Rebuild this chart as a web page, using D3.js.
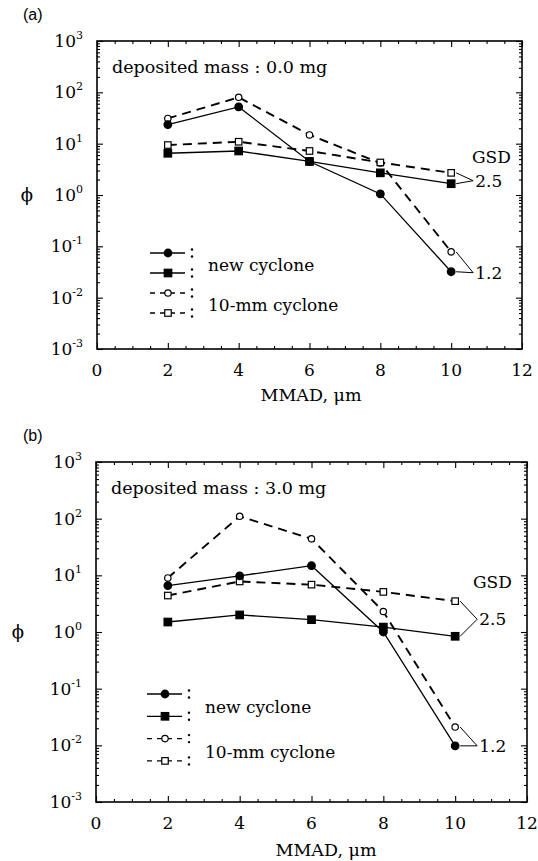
<!DOCTYPE html>
<html lang="en">
<head>
<meta charset="UTF-8">
<title>Phi vs MMAD</title>
<script src="https://d3js.org/d3.v7.min.js"></script>
<style>
  body { margin: 0; background: #fff; }
  svg text { font-family: "DejaVu Serif", serif; fill: #000; }
</style>
</head>
<body>
<div id="chart"></div>
<script>
const mmad = [2, 4, 6, 8, 10];
const xTicks = [0, 2, 4, 6, 8, 10, 12];
const yExponents = [-3, -2, -1, 0, 1, 2, 3];
const panelNames = ["(a)", "(b)"];
const massLabels = ["deposited mass : 0.0 mg", "deposited mass : 3.0 mg"];
const legendNames = ["new cyclone", "10-mm cyclone"];
const gsdNames = ["2.5", "1.2"];

// (a) deposited mass 0.0 mg
const aNew12 = [23.5, 52, 4.5, 1.05, 0.032];
const aNew25 = [6.5, 7.2, 4.5, 2.7, 1.66];
const aOld12 = [31, 80, 14.8, 4.2, 0.078];
const aOld25 = [9.4, 10.9, 7.2, 4.3, 2.7];
// (b) deposited mass 3.0 mg
const bNew12 = [6.6, 9.8, 14.8, 1.0, 0.0098];
const bNew25 = [1.5, 2.0, 1.65, 1.22, 0.84];
const bOld12 = [9.0, 110, 44, 2.3, 0.021];
const bOld25 = [4.4, 7.8, 6.85, 5.1, 3.5];

const panelData = [
  {new12: aNew12, new25: aNew25, old12: aOld12, old25: aOld25},
  {new12: bNew12, new25: bNew25, old12: bOld12, old25: bOld25}
];

const layouts = [
  {left: 97, right: 522, top: 41, bottom: 349, phiX: 27, titleX: 311, titleDy: 52,
   legX: 150, legY: 253, legStep: 20, gsdX: 472, gsdY: 157, d25: -3, d12: 1},
  {left: 96, right: 527, top: 462, bottom: 802, phiX: 18, titleX: 326, titleDy: 54,
   legX: 147, legY: 694, legStep: 22.3, gsdX: 473, gsdY: 582, d25: -17, d12: 0}
];

const svg = d3.select("#chart").append("svg")
  .attr("width", 538).attr("height", 861);

function marker(g, shape, filled, cx, cy) {
  if (shape === "circle") {
    g.append("circle").attr("cx", cx).attr("cy", cy)
      .attr("r", filled ? 3.8 : 3.2)
      .attr("fill", filled ? "#000" : "#fff")
      .attr("stroke", "#000").attr("stroke-width", 1.2);
  } else {
    const s = filled ? 7.5 : 6.5;
    g.append("rect").attr("x", cx - s / 2).attr("y", cy - s / 2)
      .attr("width", s).attr("height", s)
      .attr("fill", filled ? "#000" : "#fff")
      .attr("stroke", "#000").attr("stroke-width", 1.2);
  }
}

function drawPanel(i) {
  const L = layouts[i], D = panelData[i];
  const g = svg.append("g");

  const x = d3.scaleLinear().domain([0, 12]).range([L.left, L.right]);
  const y = d3.scaleLog().domain([1e-3, 1e3]).range([L.bottom, L.top]);

  const xMinor = d3.range(0.5, 12, 0.5).filter(v => v % 2 !== 0);
  const yMinor = [];
  yExponents.slice(0, -1).forEach(e => {
    for (let k = 2; k <= 9; k++) yMinor.push(k * Math.pow(10, e));
  });
  const yMajor = yExponents.map(e => Math.pow(10, e));

  // ticks, all pointing inwards
  const axes = [
    [d3.axisBottom(x), `translate(0,${L.bottom})`, xTicks, xMinor],
    [d3.axisTop(x), `translate(0,${L.top})`, xTicks, xMinor],
    [d3.axisLeft(y), `translate(${L.left},0)`, yMajor, yMinor],
    [d3.axisRight(y), `translate(${L.right},0)`, yMajor, yMinor]
  ];
  axes.forEach(([ax, tr, major, minor]) => {
    const a1 = g.append("g").attr("transform", tr)
      .call(ax.tickValues(major).tickSize(-6).tickFormat(""));
    a1.select(".domain").remove();
    const a2 = g.append("g").attr("transform", tr)
      .call(ax.tickValues(minor).tickSize(-3).tickFormat(""));
    a2.select(".domain").remove();
  });
  g.selectAll(".tick line").attr("stroke", "#000").attr("stroke-width", 1.1);

  g.append("rect")
    .attr("x", L.left).attr("y", L.top)
    .attr("width", L.right - L.left).attr("height", L.bottom - L.top)
    .attr("fill", "none").attr("stroke", "#000").attr("stroke-width", 1.6);

  // tick labels
  xTicks.forEach(t => {
    g.append("text").attr("x", x(t)).attr("y", L.bottom + 27)
      .attr("text-anchor", "middle").style("font-size", "17px").text(t);
  });
  yExponents.forEach(e => {
    const t = g.append("text").attr("x", L.left - 14).attr("y", y(Math.pow(10, e)) + 6)
      .attr("text-anchor", "end").style("font-size", "17px");
    t.append("tspan").text("10");
    t.append("tspan").attr("dy", -8).style("font-size", "11px").text(e);
  });

  g.append("text").attr("x", L.titleX).attr("y", L.bottom + L.titleDy)
    .attr("text-anchor", "middle").style("font-size", "17.5px").text("MMAD, \u03bcm");
  g.append("text").attr("x", L.phiX).attr("y", y(1) + 6)
    .attr("text-anchor", "middle").style("font-size", "18px").text("\u03d5");
  g.append("text").attr("x", 23).attr("y", L.top - 21)
    .style("font-family", "'Liberation Sans', Arial, sans-serif")
    .style("font-size", "16px").text(panelNames[i]);
  g.append("text").attr("x", L.left + 15).attr("y", L.top + 32)
    .style("font-size", "17.5px").text(massLabels[i]);

  // series
  const series = [
    {v: D.old12, dashed: true, shape: "circle", filled: false},
    {v: D.old25, dashed: true, shape: "square", filled: false},
    {v: D.new12, dashed: false, shape: "circle", filled: true},
    {v: D.new25, dashed: false, shape: "square", filled: true}
  ];
  const line = d3.line().x((d, j) => x(mmad[j])).y(d => y(d));
  series.forEach(s => {
    g.append("path").datum(s.v).attr("d", line)
      .attr("fill", "none").attr("stroke", "#000")
      .attr("stroke-width", s.dashed ? 1.9 : 1.3)
      .attr("stroke-dasharray", s.dashed ? "9,6" : null);
  });
  series.forEach(s => {
    s.v.forEach((d, j) => marker(g, s.shape, s.filled, x(mmad[j]), y(d)));
  });

  // GSD annotations
  g.append("text").attr("x", L.gsdX).attr("y", L.gsdY + 6)
    .style("font-size", "17px").text("GSD");
  const xe = x(mmad[mmad.length - 1]);
  [[D.old25, D.new25, L.d25, gsdNames[0]], [D.old12, D.new12, L.d12, gsdNames[1]]]
    .forEach(([vOpen, vFill, dy, name]) => {
      const y1 = y(vOpen[vOpen.length - 1]);
      const y2 = y(vFill[vFill.length - 1]);
      const ly = y2 + dy;
      const vx = xe + 22;
      [y1, y2].forEach(yy => {
        g.append("line").attr("x1", xe + 5).attr("y1", yy).attr("x2", vx).attr("y2", ly)
          .attr("stroke", "#000").attr("stroke-width", 1);
      });
      g.append("text").attr("x", vx + 2).attr("y", ly + 6)
        .style("font-size", "17px").text(name);
    });

  // legend
  const legRows = [
    {dashed: false, shape: "circle", filled: true},
    {dashed: false, shape: "square", filled: true},
    {dashed: true, shape: "circle", filled: false},
    {dashed: true, shape: "square", filled: false}
  ];
  legRows.forEach((r, k) => {
    const ry = L.legY + k * L.legStep;
    g.append("line").attr("x1", L.legX).attr("x2", L.legX + 35)
      .attr("y1", ry).attr("y2", ry)
      .attr("stroke", "#000").attr("stroke-width", 1.3)
      .attr("stroke-dasharray", r.dashed ? "5,5" : null);
    marker(g, r.shape, r.filled, L.legX + 18, ry);
    [-3.5, 3.5].forEach(dd => {
      g.append("circle").attr("cx", L.legX + 42).attr("cy", ry + dd)
        .attr("r", 1.2).attr("fill", "#000");
    });
  });
  legendNames.forEach((name, k) => {
    const mid = L.legY + (2 * k + 0.5) * L.legStep;
    g.append("text").attr("x", L.legX + 58).attr("y", mid + 8)
      .style("font-size", "17px").text(name);
  });
}

drawPanel(0);
drawPanel(1);
</script>
</body>
</html>
